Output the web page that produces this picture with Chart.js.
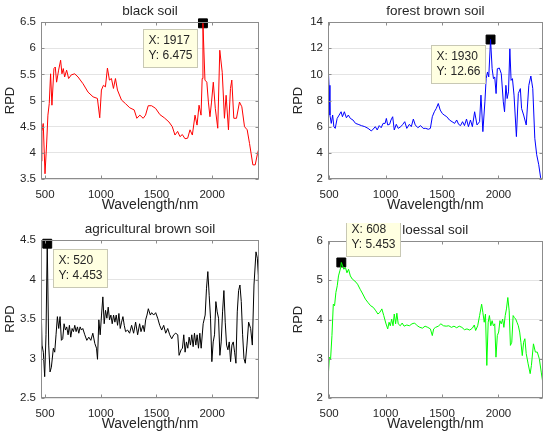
<!DOCTYPE html>
<html>
<head>
<meta charset="utf-8">
<script src="https://cdn.jsdelivr.net/npm/chart.js@4.4.1/dist/chart.umd.min.js"></script>
<style>
  html, body { margin: 0; padding: 0; background: #fff; }
  #wrap { position: relative; width: 550px; height: 437px; overflow: hidden; background: #fff; }
  canvas { position: absolute; }
</style>
</head>
<body>
<div id="wrap">
  <canvas id="c1" width="275" height="218" style="left:0;top:0"></canvas>
  <canvas id="c2" width="275" height="218" style="left:275px;top:0"></canvas>
  <canvas id="c3" width="275" height="219" style="left:0;top:218px"></canvas>
  <canvas id="c4" width="275" height="214" style="left:275px;top:223px"></canvas>
</div>
<script>
// tick labels
const xTicks = [500, 1000, 1500, 2000];
const blackTicks = [3.5, 4, 4.5, 5, 5.5, 6, 6.5];
const forestTicks = [2, 4, 6, 8, 10, 12, 14];
const agriTicks = [2.5, 3, 3.5, 4, 4.5];
const loessTicks = [2, 3, 4, 5, 6];

// RPD vs wavelength (nm)
const blackSoil = [
  [464,3.84],[472,4.41],[484,4.56],[500,3.6],[514,4.15],[526,4.72],[538,4.94],[550,5.51],[562,4.91],
  [580,5.61],[592,5.64],[604,5.35],[622,5.58],[640,5.77],[652,5.51],[664,5.61],[676,5.45],[694,5.58],
  [712,5.42],[736,5.49],[766,5.51],[796,5.45],[841,5.32],[886,5.16],[931,5.07],[970,5.04],[991,4.67],
  [1006,5.2],[1024,5.29],[1042,5.26],[1060,5.62],[1078,5.39],[1096,5.42],[1114,5.23],[1132,5.42],
  [1150,5.2],[1186,5.01],[1222,4.94],[1261,4.86],[1300,4.82],[1324,4.66],[1351,4.72],[1381,4.66],
  [1402,4.72],[1426,4.9],[1456,4.9],[1492,4.85],[1531,4.73],[1570,4.67],[1612,4.59],[1642,4.5],
  [1666,4.34],[1690,4.41],[1711,4.31],[1732,4.35],[1756,4.27],[1780,4.28],[1801,4.44],[1822,4.34],
  [1846,4.72],[1864,4.53],[1882,4.91],[1900,4.72],[1910,5.42],[1917,6.475],[1935,5.39],[1952,5.35],
  [1966,4.97],[1980,4.69],[1994,4.97],[2010,5.35],[2028,4.85],[2050,4.47],[2068,5.96],[2090,5.54],
  [2110,4.66],[2125,5.1],[2146,4.44],[2164,5.23],[2176,5.39],[2194,4.66],[2218,4.66],[2245,4.97],
  [2266,4.88],[2290,4.5],[2314,4.44],[2335,4.18],[2365,3.77],[2386,3.77],[2404,3.96],[2420,4.09]
];
const forestBrownSoil = [
  [490,10.94],[499,9.16],[507,6.89],[519,6.25],[531,6.89],[542,6.0],[554,5.87],[571,6.63],[589,6.89],
  [606,7.14],[618,6.76],[635,7.14],[653,6.68],[670,6.89],[688,6.63],[711,6.51],[734,6.25],[757,6.18],
  [786,6.08],[816,6.0],[845,5.87],[874,5.67],[891,5.82],[909,6.0],[926,5.75],[944,6.08],[961,5.92],
  [978,6.25],[996,6.25],[1007,6.63],[1019,6.13],[1036,6.18],[1048,6.51],[1063,6.76],[1077,5.75],
  [1095,6.18],[1112,5.87],[1135,6.0],[1153,6.18],[1170,6.38],[1188,5.87],[1211,6.18],[1228,6.0],
  [1246,6.58],[1263,6.13],[1286,5.92],[1310,6.08],[1333,5.87],[1356,5.87],[1379,5.8],[1397,5.87],
  [1414,6.76],[1432,7.14],[1449,7.39],[1467,7.77],[1484,7.27],[1502,7.01],[1519,6.89],[1542,6.76],
  [1566,6.51],[1589,6.38],[1612,6.25],[1630,6.51],[1647,6.18],[1664,6.08],[1682,6.38],[1699,6.08],
  [1717,6.58],[1734,6.0],[1752,6.51],[1769,6.0],[1789,7.14],[1810,6.13],[1833,6.38],[1845,8.41],
  [1862,5.62],[1880,7.9],[1891,9.67],[1903,10.18],[1914,9.8],[1930,12.66],[1944,10.43],[1956,9.67],
  [1967,9.8],[1979,8.53],[1990,10.43],[2008,10.48],[2025,10.05],[2043,7.9],[2054,7.14],[2066,9.16],
  [2077,8.15],[2089,8.66],[2101,11.95],[2112,9.54],[2124,9.67],[2138,8.41],[2159,5.24],[2176,8.53],
  [2194,8.91],[2205,7.39],[2223,6.89],[2246,6.13],[2269,9.16],[2287,9.87],[2304,8.91],[2322,5.11],
  [2339,3.85],[2357,3.09],[2374,2.08],[2392,1.5]
];
const agriBrownSoil = [
  [464,3.76],[473,3.17],[485,3.08],[497,2.77],[509,3.3],[520,4.453],[533,3.17],[545,2.83],[557,2.89],
  [575,3.13],[587,3.08],[599,3.3],[611,3.53],[623,3.38],[635,3.53],[647,3.23],[659,3.25],[671,3.44],
  [683,3.36],[695,3.4],[707,3.3],[719,3.42],[731,3.27],[743,3.38],[755,3.34],[767,3.42],[779,3.34],
  [791,3.4],[803,3.32],[815,3.4],[827,3.36],[839,3.38],[857,3.3],[875,3.23],[893,3.27],[911,3.23],
  [929,3.32],[947,3.19],[962,3.13],[971,2.99],[983,3.49],[995,3.3],[1007,3.55],[1019,3.78],[1031,3.44],
  [1043,3.61],[1055,3.51],[1067,3.65],[1079,3.49],[1091,3.55],[1103,3.44],[1115,3.55],[1127,3.46],
  [1139,3.55],[1151,3.42],[1163,3.57],[1175,3.38],[1187,3.46],[1199,3.53],[1211,3.42],[1223,3.34],
  [1241,3.36],[1259,3.32],[1277,3.42],[1295,3.32],[1313,3.46],[1331,3.3],[1349,3.44],[1361,3.34],
  [1379,3.42],[1391,3.34],[1403,3.49],[1415,3.55],[1427,3.63],[1445,3.55],[1457,3.58],[1475,3.55],
  [1493,3.58],[1511,3.51],[1529,3.42],[1547,3.36],[1565,3.42],[1583,3.32],[1601,3.38],[1619,3.3],
  [1637,3.25],[1655,3.3],[1673,3.32],[1691,3.3],[1703,3.04],[1721,3.11],[1733,3.13],[1745,3.3],
  [1757,3.08],[1769,3.21],[1781,3.13],[1793,3.27],[1805,3.17],[1817,3.3],[1829,3.15],[1841,3.32],
  [1853,3.17],[1865,3.3],[1877,3.13],[1889,3.32],[1901,3.13],[1919,3.44],[1937,3.55],[1949,3.89],
  [1961,4.1],[1973,3.8],[1985,3.51],[1997,2.96],[2009,3.21],[2021,3.3],[2033,3.72],[2045,3.59],
  [2057,3.51],[2069,3.04],[2081,3.21],[2093,3.59],[2105,3.86],[2117,3.46],[2129,3.17],[2141,3.11],
  [2153,3.21],[2165,2.96],[2177,3.17],[2189,3.21],[2201,3.08],[2213,2.94],[2225,3.59],[2237,3.86],
  [2249,3.93],[2261,3.72],[2273,3.3],[2285,3.0],[2297,2.94],[2312,3.17],[2327,3.46],[2345,3.38],
  [2360,3.17],[2375,3.93],[2393,4.35],[2405,4.27],[2414,4.05],[2420,2.98]
];
const loessalSoil = [
  [490,2.45],[502,3.04],[513,3.0],[525,3.59],[537,4.39],[548,4.35],[560,4.69],[572,4.86],[583,5.11],
  [595,5.24],[602,5.32],[608,5.453],[630,5.28],[645,5.32],[658,5.19],[672,5.28],[688,5.11],[705,5.03],
  [728,4.98],[752,4.9],[775,4.77],[798,4.65],[821,4.52],[845,4.43],[868,4.35],[891,4.31],[914,4.22],
  [932,4.14],[949,4.18],[967,4.27],[984,4.1],[1002,3.91],[1019,3.76],[1031,3.93],[1042,3.84],
  [1054,4.01],[1066,3.84],[1077,4.14],[1089,3.89],[1100,4.16],[1112,3.89],[1130,3.84],[1147,3.91],
  [1164,3.83],[1188,3.86],[1211,3.84],[1234,3.89],[1257,3.91],[1281,3.84],[1304,3.8],[1327,3.78],
  [1350,3.83],[1374,3.8],[1397,3.76],[1414,3.59],[1426,3.76],[1443,3.8],[1467,3.83],[1490,3.89],
  [1513,3.84],[1537,3.83],[1560,3.84],[1583,3.8],[1606,3.83],[1630,3.79],[1653,3.83],[1676,3.8],
  [1699,3.74],[1721,3.76],[1746,3.73],[1769,3.78],[1786,3.86],[1798,3.72],[1816,3.84],[1833,4.1],
  [1851,4.39],[1862,4.18],[1874,3.93],[1885,4.14],[1897,2.83],[1909,3.93],[1920,4.1],[1932,3.84],
  [1944,3.97],[1955,3.84],[1967,3.89],[1978,3.04],[1990,3.59],[2002,3.68],[2013,3.97],[2025,3.89],
  [2037,4.01],[2048,3.8],[2060,4.1],[2071,4.27],[2083,4.56],[2095,4.22],[2106,3.34],[2118,3.42],
  [2130,4.1],[2141,4.05],[2153,4.01],[2164,3.93],[2176,3.84],[2188,3.68],[2199,3.42],[2211,3.08],
  [2223,3.42],[2234,3.51],[2246,3.13],[2263,2.87],[2281,2.62],[2292,2.83],[2310,3.38],[2327,3.17],
  [2344,3.17],[2362,3.0],[2379,2.66],[2392,2.41]
];

// data tips [x, y]
const blackTip = [1917, 6.475];
const forestTip = [1930, 12.66];
const agriTip = [520, 4.453];
const loessTip = [608, 5.453];

const FONT = '"Liberation Sans", Arial, Helvetica, sans-serif';
const TXT = '#262626';

const matlabLook = {
  id: 'matlabLook',
  afterDatasetsDraw(chart, args, opts) {
    const { ctx, chartArea: a, scales: { x, y } } = chart;
    ctx.save();
    ctx.strokeStyle = '#8c8c8c';
    ctx.lineWidth = 1;
    const L = Math.round(a.left) + 0.5, T = Math.round(a.top) + 0.5;
    const R = Math.round(a.right) - 0.5, B = Math.round(a.bottom) - 0.5;
    ctx.strokeRect(L, T, R - L, B - T);
    ctx.beginPath();
    xTicks.forEach(v => {
      const px = Math.round(x.getPixelForValue(v)) + 0.5;
      ctx.moveTo(px, B); ctx.lineTo(px, B - 3);
      ctx.moveTo(px, T); ctx.lineTo(px, T + 3);
    });
    y.ticks.forEach(t => {
      const py = Math.round(y.getPixelForValue(t.value)) + 0.5;
      ctx.moveTo(L, py); ctx.lineTo(L + 3, py);
      ctx.moveTo(R, py); ctx.lineTo(R - 3, py);
    });
    ctx.stroke();
    ctx.fillStyle = TXT;
    ctx.font = '13.5px ' + FONT;
    ctx.textAlign = 'center';
    ctx.textBaseline = 'middle';
    ctx.fillText(opts.title, (a.left + a.right) / 2, a.top - 11);
    ctx.restore();
  },
  afterDraw(chart, args, opts) {
    const { ctx, scales: { x, y } } = chart;
    const tip = opts.tip;
    const cx = x.getPixelForValue(tip[0]);
    const cy = y.getPixelForValue(tip[1]);
    const lines = ['X: ' + tip[0], 'Y: ' + tip[1]];
    ctx.save();
    ctx.font = '12px ' + FONT;
    const w = Math.max(...lines.map(s => ctx.measureText(s).width)) + 10;
    const h = 38;
    const gx = opts.gap[0], gy = opts.gap[1];
    let left, top;
    if (opts.dir === 'bl') { left = cx - gx - w; top = cy + gy; }
    else if (opts.dir === 'br') { left = cx + gx; top = cy + gy; }
    else { left = cx + gx; top = cy - gy - h; }
    left = Math.round(left) + 0.5; top = Math.round(top) + 0.5;
    ctx.fillStyle = '#ffffe1';
    ctx.fillRect(left, top, Math.round(w), h);
    ctx.strokeStyle = '#c8c8b4';
    ctx.lineWidth = 1;
    ctx.strokeRect(left, top, Math.round(w), h);
    ctx.fillStyle = TXT;
    ctx.textAlign = 'left';
    ctx.textBaseline = 'middle';
    ctx.fillText(lines[0], left + 5, top + 11.5);
    ctx.fillText(lines[1], left + 5, top + 26);
    ctx.restore();
  }
};

function makePanel(id, series, color, yTicks, tip, cfg) {
  new Chart(document.getElementById(id), {
    type: 'line',
    data: {
      datasets: [
        {
          data: series.map(p => ({ x: p[0], y: p[1] })),
          borderColor: color,
          borderWidth: 1,
          pointRadius: 0,
          tension: 0,
          fill: false
        },
        {
          data: [{ x: tip[0], y: tip[1] }],
          showLine: false,
          pointStyle: 'rect',
          pointRadius: 6.3,
          pointBackgroundColor: '#000',
          pointBorderColor: '#000',
          pointBorderWidth: 1,
          clip: false
        }
      ]
    },
    options: {
      responsive: false,
      animation: false,
      events: [],
      layout: { padding: { left: cfg.padLeft, right: cfg.padRight, top: cfg.padTop, bottom: 0 } },
      plugins: {
        legend: { display: false },
        tooltip: { enabled: false },
        matlabLook: { title: cfg.title, tip: tip, dir: cfg.dir, gap: cfg.gap }
      },
      scales: {
        x: {
          type: 'linear',
          min: cfg.xMin,
          max: cfg.xMax,
          afterBuildTicks: s => { s.ticks = xTicks.map(v => ({ value: v })); },
          afterFit: s => { s.height = cfg.xH; },
          grid: { display: false, drawTicks: false },
          border: { display: false },
          ticks: { padding: 9, color: TXT, font: { size: 11.5, family: FONT }, callback: v => String(v), maxRotation: 0 },
          title: { display: true, text: 'Wavelength/nm', color: TXT, font: { size: 14, family: FONT }, padding: { top: 0, bottom: 4.6 } }
        },
        y: {
          min: yTicks[0],
          max: yTicks[yTicks.length - 1],
          afterBuildTicks: s => { s.ticks = yTicks.map(v => ({ value: v })); },
          afterFit: s => { s.width = cfg.yW; },
          grid: { color: '#e4e4e4', drawTicks: false },
          border: { display: false },
          ticks: { padding: 5, color: TXT, font: { size: 11.5, family: FONT }, callback: v => String(v) },
          title: { display: true, text: 'RPD', color: TXT, font: { size: 13, family: FONT }, padding: { top: 2.2, bottom: 0 } }
        }
      }
    },
    plugins: [matlabLook]
  });
}

makePanel('c1', blackSoil, '#ff0000', blackTicks, blackTip,
  { title: 'black soil', xMin: 464, xMax: 2420, padLeft: 0, padRight: 16, padTop: 22, xH: 39, yW: 41, dir: 'bl', gap: [6, 6] });
makePanel('c2', forestBrownSoil, '#0000ff', forestTicks, forestTip,
  { title: 'forest brown soil', xMin: 490, xMax: 2392, padLeft: 13, padRight: 5, padTop: 22, xH: 39, yW: 40, dir: 'bl', gap: [6, 5] });
makePanel('c3', agriBrownSoil, '#000000', agriTicks, agriTip,
  { title: 'agricultural brown soil', xMin: 464, xMax: 2420, padLeft: 0, padRight: 16, padTop: 22, xH: 39, yW: 41, dir: 'br', gap: [6, 5] });
makePanel('c4', loessalSoil, '#00ff00', loessTicks, loessTip,
  { title: 'loessal soil', xMin: 490, xMax: 2392, padLeft: 13, padRight: 5, padTop: 18, xH: 39, yW: 40, dir: 'tr', gap: [5, 6] });
</script>
</body>
</html>
